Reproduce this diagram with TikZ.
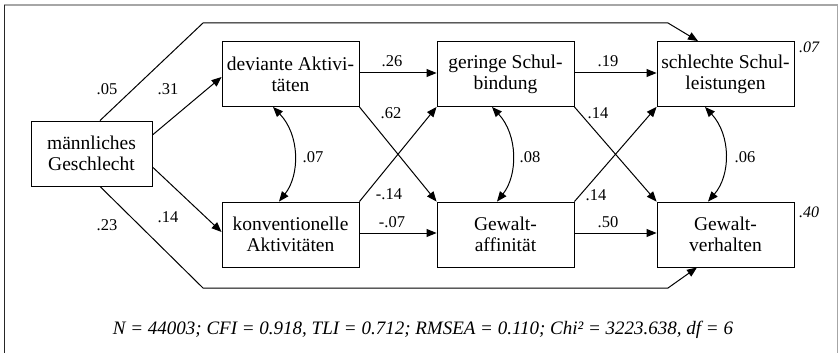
\documentclass[tikz,border=0pt]{standalone}
\usepackage{fontspec}
\setmainfont{Liberation Serif}
\newfontfamily\tnr{Liberation Serif}
\usetikzlibrary{arrows.meta}
\begin{document}
\begin{tikzpicture}[x=1pt,y=-1pt,
  box/.style={draw,line width=0.9pt,minimum width=137pt,minimum height=65pt,align=center,
    font=\tnr\fontsize{19.5}{21}\selectfont,inner sep=0pt},
  path/.style={line width=1pt,-{Triangle[length=10pt,width=8pt]}},
  cov/.style={line width=1pt,{Triangle[length=10pt,width=8pt]}-{Triangle[length=10pt,width=8pt]}},
  coef/.style={font=\tnr\fontsize{16.5}{18}\selectfont,inner sep=0pt},
  rsq/.style={font=\tnr\fontsize{16}{18}\selectfont\itshape,inner sep=0pt}]
\useasboundingbox (0,0) rectangle (839,353);
\draw[gray!70,line width=1.5pt] (4.5,5) rectangle (837.5,360);
\draw[black!85,line width=1.5pt] (4.5,5) -- (4.5,353);
% boxes
\node[box,minimum width=121pt] (m) at (91.5,153.5) {männliches\\Geschlecht};
\node[box] (d) at (290.5,74) {deviante Aktivi-\\täten};
\node[box] (k) at (290.5,234.5) {konventionelle\\Aktivitäten};
\node[box] (g) at (505.5,74) {geringe Schul-\\bindung};
\node[box] (s) at (725.5,74) {schlechte Schul-\\leistungen};
\node[box] (a) at (505.5,234.5) {Gewalt-\\affinität};
\node[box] (v) at (725.5,234.5) {Gewalt-\\verhalten};
% coordinates
\coordinate (t1) at (203,23);
\coordinate (t2) at (668,23);
\coordinate (b1) at (203,288);
\coordinate (b2) at (668,288);
% paths
\draw[line width=1pt] (m.north -| 100,0) -- (t1) -- (t2);
\draw[path] (t2) -- (s.north -| 698,0);
\draw[line width=1pt] (m.south -| 100,0) -- (b1) -- (b2);
\draw[path] (b2) -- (v.south -| 697,0);
\draw[path] (m.east |- 0,135) -- (d.west |- 0,77);
\draw[path] (m.east |- 0,167) -- (k.west |- 0,232);
\draw[path] (d.east |- 0,73) -- (g.west |- 0,73);
\draw[path] (g.east |- 0,73) -- (s.west |- 0,73);
\draw[path] (k.east |- 0,233) -- (a.west |- 0,233);
\draw[path] (a.east |- 0,233) -- (v.west |- 0,233);
\draw[path] (d.south east) -- (a.north west);
\draw[path] (k.north east) -- (g.south west);
\draw[path] (g.south east) -- (v.north west);
\draw[path] (a.north east) -- (s.south west);
% covariances
\draw[cov] (d.south -| 273,0) .. controls (300,135) and (300,175) .. (k.north -| 279,0);
\draw[cov] (g.south -| 492,0) .. controls (518,135) and (518,175) .. (a.north -| 497,0);
\draw[cov] (s.south -| 705,0) .. controls (731,135) and (731,175) .. (v.north -| 708,0);
% coefficients
\node[coef] (c05) at (107,89) {.05};
\node[coef] (c31) at (168,89) {.31};
\node[coef] (c14a) at (168,217) {.14};
\node[coef] (c23) at (107,225) {.23};
\node[coef] (c26) at (392,61) {.26};
\node[coef] (c62) at (391,113) {.62};
\node[coef] (c07) at (313,157) {.07};
\node[coef] (cm14) at (389,194) {-.14};
\node[coef] (cm07) at (392,222) {-.07};
\node[coef] (c19) at (608,61) {.19};
\node[coef] (c14b) at (598,113) {.14};
\node[coef] (c08) at (530,157) {.08};
\node[coef] (c14c) at (596,195) {.14};
\node[coef] (c50) at (608,222) {.50};
\node[coef] (c06) at (745,157) {.06};
\node[rsq] (r07) at (809,47) {.07};
\node[rsq] (r40) at (809,212) {.40};
\node[font=\tnr\fontsize{19}{22}\selectfont\itshape,inner sep=0pt] (fit) at (423,330)
  {N = 44003; CFI = 0.918, TLI = 0.712; RMSEA = 0.110; Chi² = 3223.638, df = 6};
\end{tikzpicture}
\end{document}
